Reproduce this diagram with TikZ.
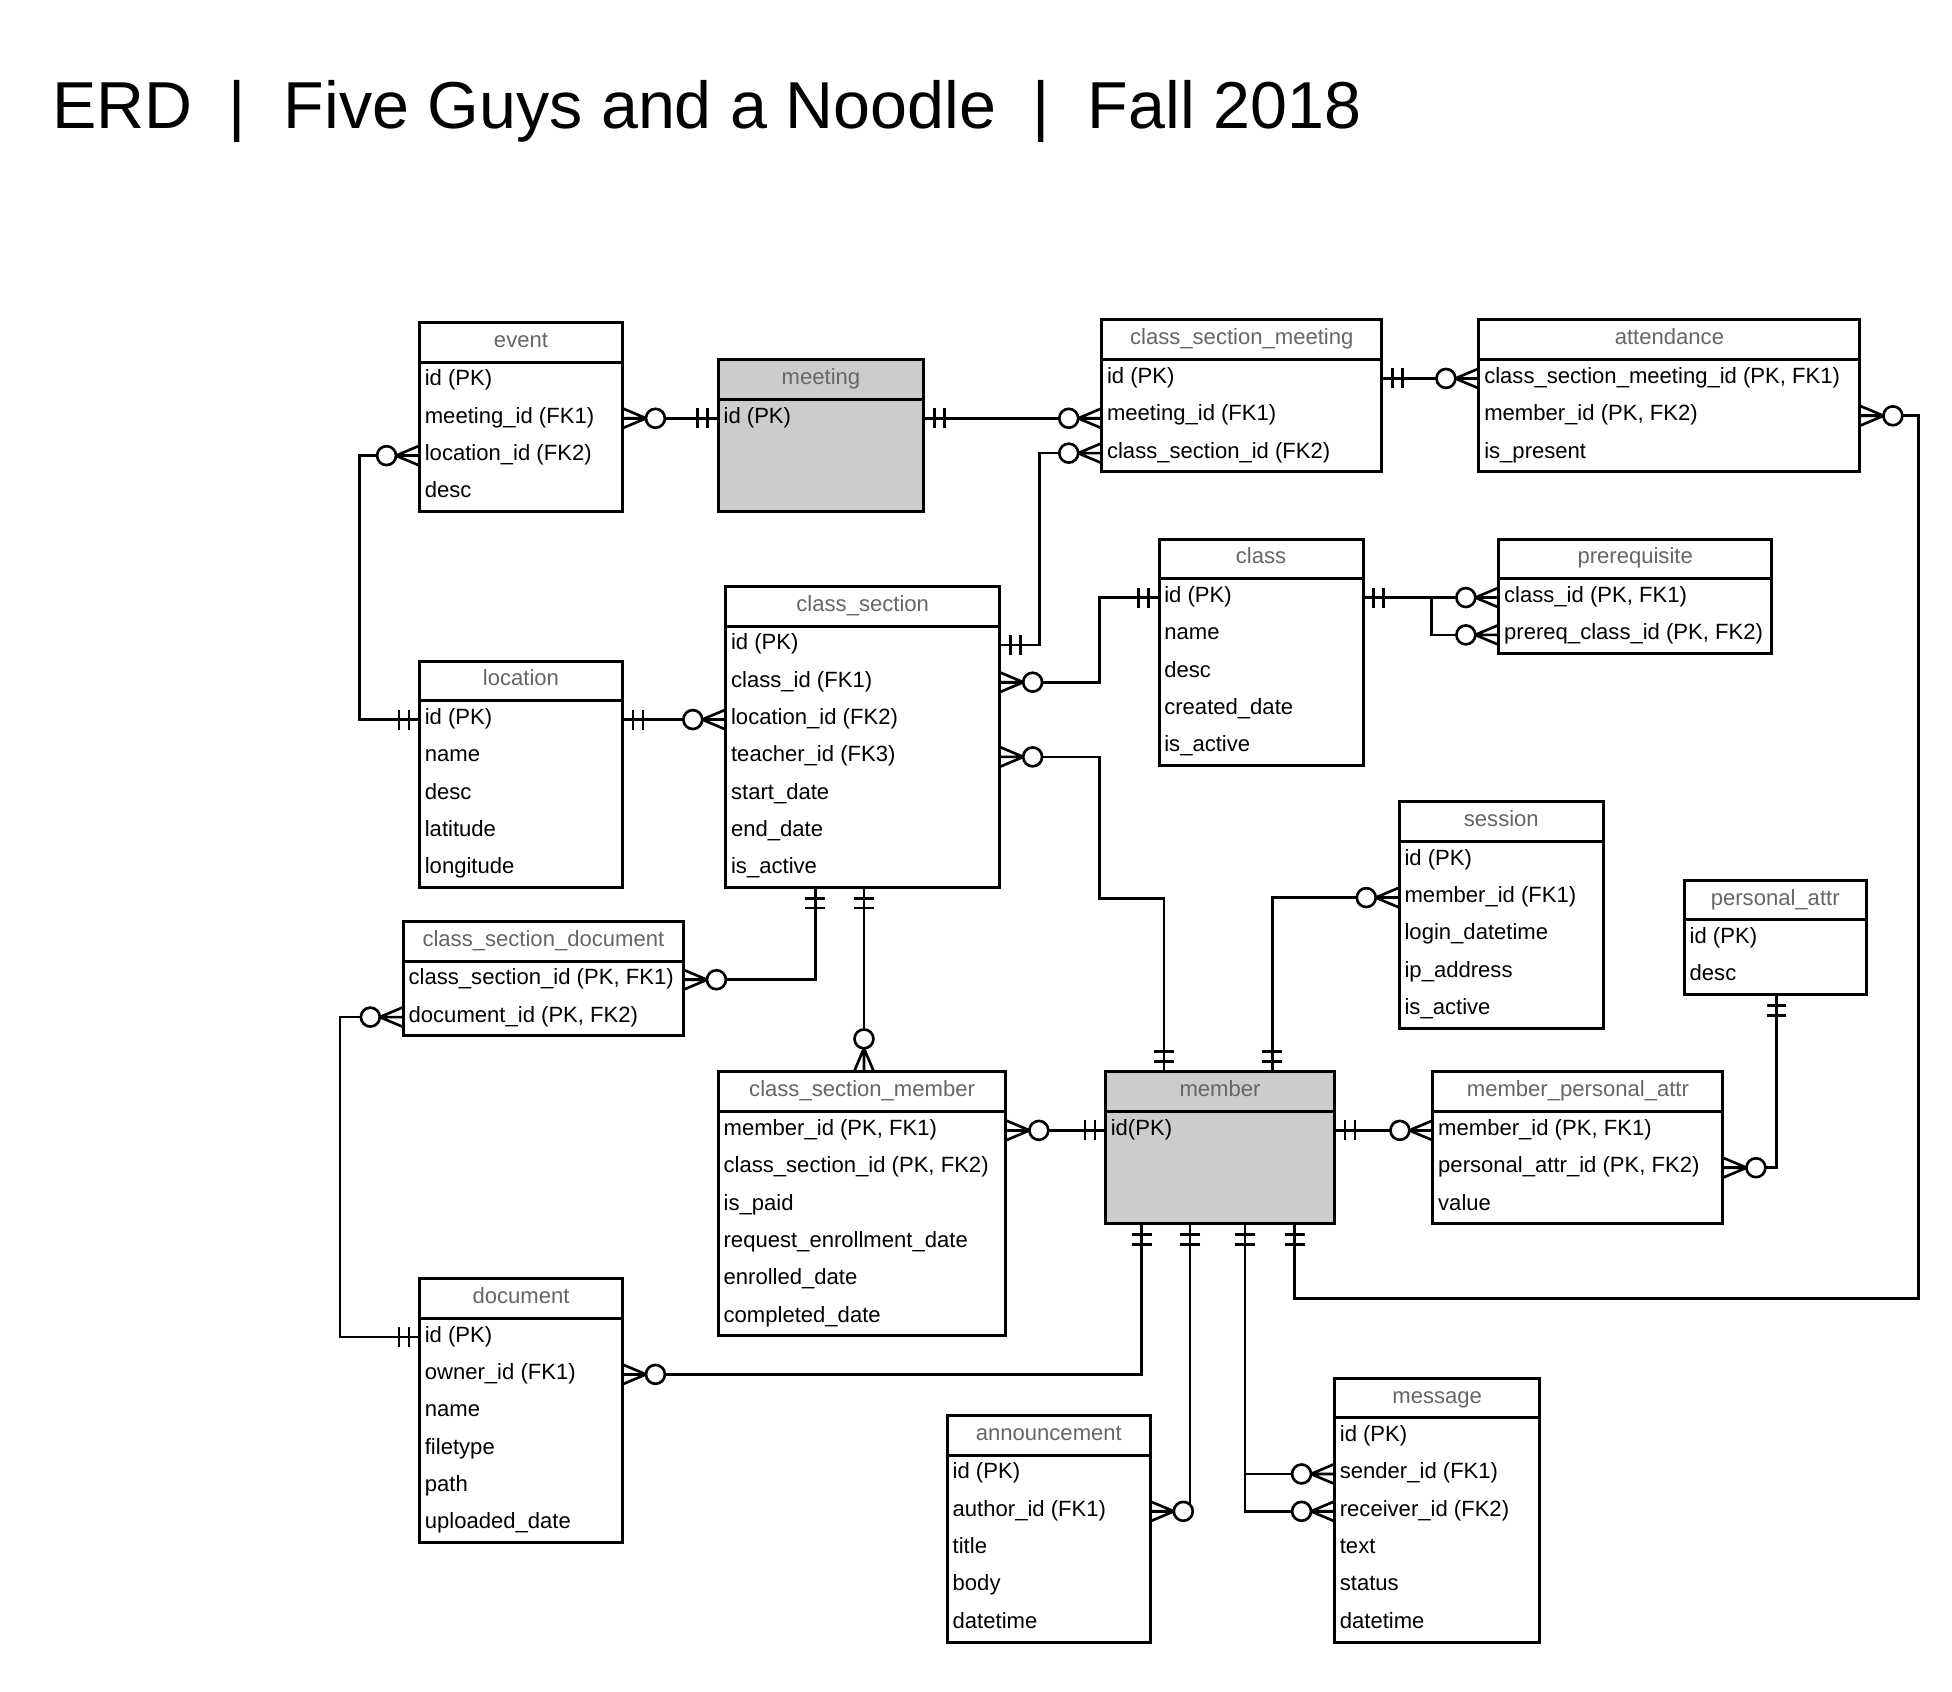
\documentclass[tikz,border=0pt]{standalone}
\usepackage{fontspec}
\setmainfont{Liberation Sans}
\usetikzlibrary{calc}
\definecolor{hdrgray}{RGB}{102,102,102}
\definecolor{boxgray}{RGB}{204,204,204}
\tikzset{
  conn/.style={line width=1.6pt},
  boxline/.style={draw=black, line width=1.8pt, inner sep=0pt, outer sep=0pt},
  rowtxt/.style={inner sep=0pt, font=\fontsize{13.3pt}{16pt}\selectfont},
  hdrtxt/.style={inner sep=0pt, text=hdrgray, font=\fontsize{13.3pt}{16pt}\selectfont},
  titletxt/.style={inner sep=0pt, font=\fontsize{40pt}{48pt}\selectfont},
}
\newcommand{\erent}[8]{%
  \node[boxline, fill=#6, minimum width={(#4-#2)*0.75pt}, minimum height={32*0.75pt}, anchor=north west] (#1-h) at (#2,#3) {};
  \node[hdrtxt, anchor=base] (#1-t) at ({(#2+#4)/2},{#3+20}) {#7};
  \node[boxline, fill=#6, minimum width={(#4-#2)*0.75pt}, minimum height={#5*30*0.75pt}, anchor=north west] (#1) at (#1-h.south west) {};
  \foreach \rt [count=\i] in {#8} {
    \node[rowtxt, anchor=base west] (#1-\i) at ({#2+4},{#3+32+30*\i-11}) {\rt};
    \coordinate (#1-\i-w) at (#2,{#3+32+30*\i-15});
    \coordinate (#1-\i-e) at (#4,{#3+32+30*\i-15});
  }%
}
\newcommand{\erone}[2]{\begin{scope}[shift={(#1)},rotate=#2]\draw[conn] (8.5,-8)--(8.5,8) (16.5,-8)--(16.5,8);\end{scope}}
\newcommand{\ermany}[2]{\begin{scope}[shift={(#1)},rotate=#2]\draw[conn] (0,-8)--(19,0)--(0,8) (0,0)--(19,0);\draw[conn,fill=white] (26.5,0) circle[radius=7.6];\end{scope}}
\begin{document}
\begin{tikzpicture}[x=0.75pt,y=-0.75pt]
\useasboundingbox (0,0) rectangle (1568,1359);
\fill[white] (0,0) rectangle (1568,1359);
\node[titletxt, anchor=base west] (title) at (42,103) {ERD\hspace{21.5pt}|\hspace{23pt}Five Guys and a Noodle\hspace{22pt}|\hspace{23pt}Fall 2018};
\erent{event}{337}{259}{500}{4}{white}{event}{id (PK),meeting\_id (FK1),location\_id (FK2),desc}
\erent{meeting}{577}{289}{742}{3}{boxgray}{meeting}{id (PK)}
\erent{csm}{885}{257}{1110}{3}{white}{class\_section\_meeting}{id (PK),meeting\_id (FK1),class\_section\_id (FK2)}
\erent{att}{1188}{257}{1494}{3}{white}{attendance}{{class\_section\_meeting\_id (PK, FK1)},{member\_id (PK, FK2)},is\_present}
\erent{class}{931}{433}{1095}{5}{white}{class}{id (PK),name,desc,created\_date,is\_active}
\erent{prereq}{1204}{433}{1423}{2}{white}{prerequisite}{{class\_id (PK, FK1)},{prereq\_class\_id (PK, FK2)}}
\erent{cs}{583}{471}{803}{7}{white}{class\_section}{id (PK),class\_id (FK1),location\_id (FK2),teacher\_id (FK3),start\_date,end\_date,is\_active}
\erent{loc}{337}{531}{500}{5}{white}{location}{id (PK),name,desc,latitude,longitude}
\erent{sess}{1124}{644}{1288}{5}{white}{session}{id (PK),member\_id (FK1),login\_datetime,ip\_address,is\_active}
\erent{pattr}{1353}{707}{1499}{2}{white}{personal\_attr}{id (PK),desc}
\erent{csd}{324}{740}{549}{2}{white}{class\_section\_document}{{class\_section\_id (PK, FK1)},{document\_id (PK, FK2)}}
\erent{csmem}{577}{861}{808}{6}{white}{class\_section\_member}{{member\_id (PK, FK1)},{class\_section\_id (PK, FK2)},is\_paid,request\_enrollment\_date,enrolled\_date,completed\_date}
\erent{member}{888}{861}{1072}{3}{boxgray}{member}{id(PK)}
\erent{mpa}{1151}{861}{1384}{3}{white}{member\_personal\_attr}{{member\_id (PK, FK1)},{personal\_attr\_id (PK, FK2)},value}
\erent{doc}{337}{1027}{500}{6}{white}{document}{id (PK),owner\_id (FK1),name,filetype,path,uploaded\_date}
\erent{ann}{761}{1137}{924}{5}{white}{announcement}{id (PK),author\_id (FK1),title,body,datetime}
\erent{msg}{1072}{1107}{1237}{6}{white}{message}{id (PK),sender\_id (FK1),receiver\_id (FK2),text,status,datetime}
% attachment points on box edges
\coordinate (mt1) at (935,861);
\coordinate (mt2) at (1022,861);
\coordinate (mb1) at (917,983);
\coordinate (mb2) at (956,983);
\coordinate (mb3) at (1000,983);
\coordinate (mb4) at (1040,983);
\coordinate (cb1) at (655,713);
\coordinate (cb2) at (694,713);
\coordinate (csmt) at (694,861);
\coordinate (pab) at (1427,799);
\coordinate (m2c) at (meeting-1-e -| csm.west);
% connectors
\draw[conn] (event-2-e) -- (meeting-1-w);
\draw[conn] (meeting-1-e) -- (m2c);
\draw[conn] (csm-1-e) -- (att-1-w);
\draw[conn] (att-2-e) -| (1541,1043) -| (mb4);
\draw[conn] (event-3-w) -- ++(-48,0) |- (loc-1-w);
\draw[conn] (csm-3-w) -- ++(-50,0) |- (cs-1-e);
\draw[conn] (loc-1-e) -- (cs-3-w);
\draw[conn] (cs-2-e) -- ++(80,0) |- (class-1-w);
\draw[conn] (cs-4-e) -| (883,722) -| (mt1);
\draw[conn] (class-1-e) -- (prereq-1-w);
\draw[conn] ($(class-1-e)!0.505!(prereq-1-w)$) |- (prereq-2-w);
\draw[conn] (sess-2-w) -| (mt2);
\draw[conn] (cb1) |- (csd-1-e);
\draw[conn] (cb2) -- (csmt);
\draw[conn] (csd-2-w) -- ++(-51,0) |- (doc-1-w);
\draw[conn] (pab) |- (mpa-2-e);
\draw[conn] (csmem-1-e) -- (member-1-w);
\draw[conn] (member-1-e) -- (mpa-1-w);
\draw[conn] (mb1) |- (doc-2-e);
\draw[conn] (mb2) |- (ann-2-e);
\draw[conn] (mb3) |- (msg-3-w);
\draw[conn] (mb3 |- msg-2-w) -- (msg-2-w);
% cardinality symbols
\ermany{event-2-e}{0} \erone{meeting-1-w}{180}
\erone{meeting-1-e}{0} \ermany{m2c}{180}
\erone{csm-1-e}{0} \ermany{att-1-w}{180}
\ermany{att-2-e}{0} \erone{mb4}{270}
\ermany{event-3-w}{180} \erone{loc-1-w}{180}
\ermany{csm-3-w}{180} \erone{cs-1-e}{0}
\erone{loc-1-e}{0} \ermany{cs-3-w}{180}
\ermany{cs-2-e}{0} \erone{class-1-w}{180}
\ermany{cs-4-e}{0} \erone{mt1}{90}
\erone{class-1-e}{0} \ermany{prereq-1-w}{180} \ermany{prereq-2-w}{180}
\ermany{sess-2-w}{180} \erone{mt2}{90}
\erone{cb1}{270} \ermany{csd-1-e}{0}
\erone{cb2}{270} \ermany{csmt}{90}
\ermany{csd-2-w}{180} \erone{doc-1-w}{180}
\ermany{csmem-1-e}{0} \erone{member-1-w}{180}
\erone{member-1-e}{0} \ermany{mpa-1-w}{180}
\erone{pab}{270} \ermany{mpa-2-e}{0}
\erone{mb1}{270} \ermany{doc-2-e}{0}
\erone{mb2}{270} \ermany{ann-2-e}{0}
\erone{mb3}{270} \ermany{msg-2-w}{180} \ermany{msg-3-w}{180}
\end{tikzpicture}
\end{document}
